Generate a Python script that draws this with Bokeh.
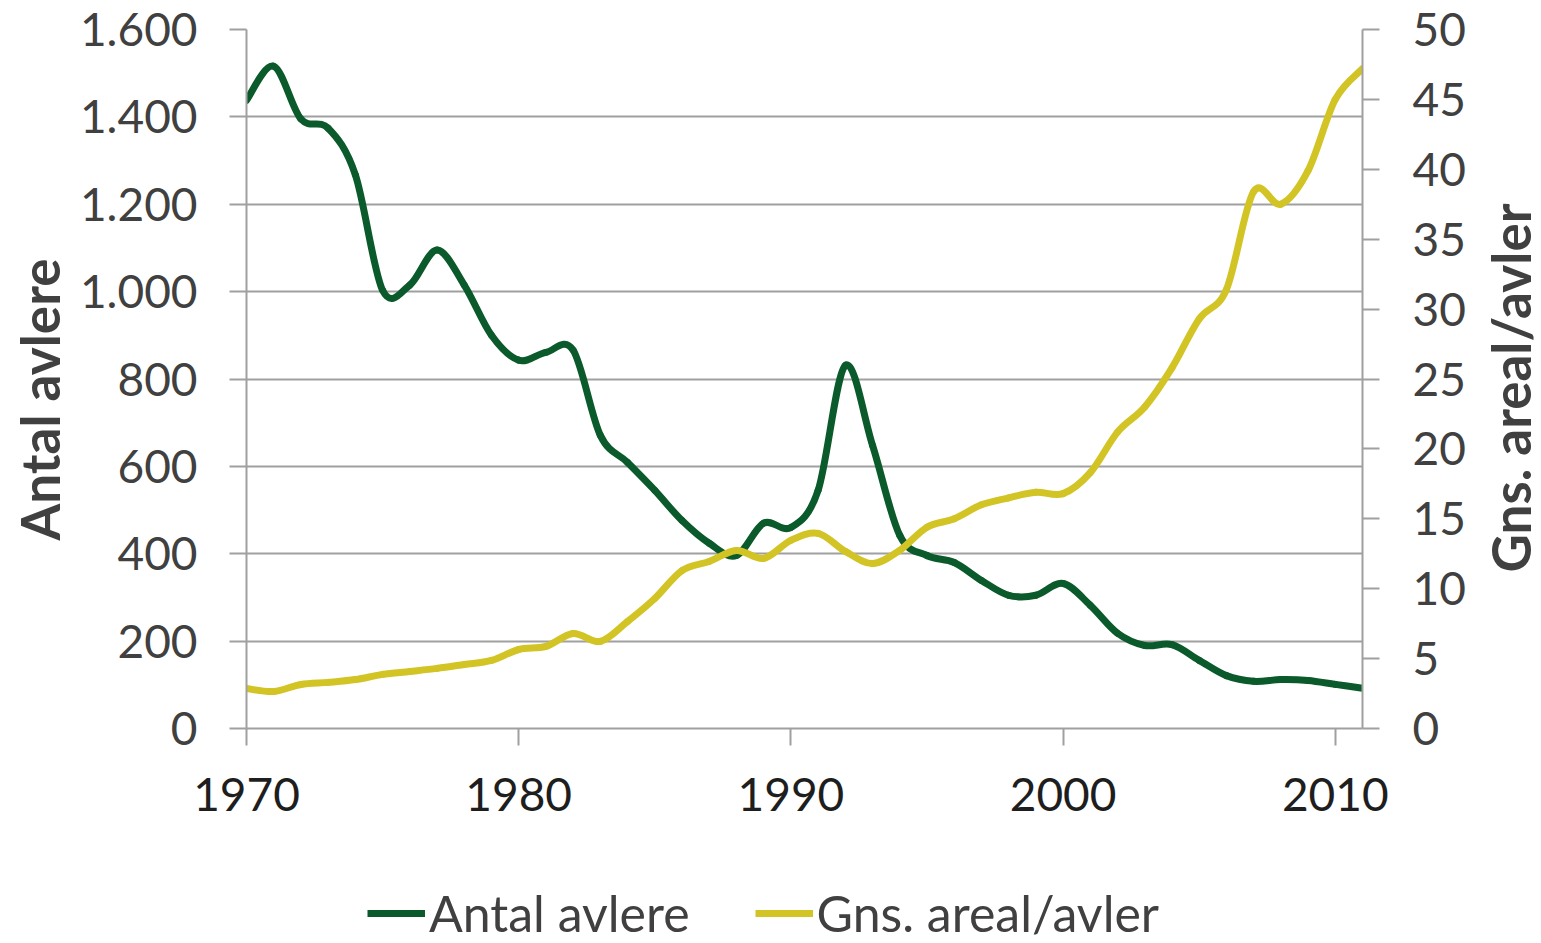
import math
import numpy as np
from bokeh.plotting import figure
from bokeh.layouts import column, row
from bokeh.models import (Range1d, LinearAxis, FixedTicker, Legend, LegendItem,
                          Title)
from bokeh.embed import file_html
from bokeh.resources import INLINE

years = list(range(1970, 2012))
antal_avlere = [1438, 1516, 1395, 1374, 1267, 1003, 1015, 1095, 1015, 900,
                843, 861, 866, 671, 609, 545, 476, 424, 396, 470,
                460, 545, 831, 648, 442, 396, 380, 339, 305, 305,
                332, 282, 218, 190, 192, 156, 121, 108, 112, 110,
                101, 92]
gns_areal = [2.86, 2.65, 3.15, 3.3, 3.5, 3.87, 4.08, 4.3, 4.58, 4.87,
             5.65, 5.87, 6.8, 6.23, 7.66, 9.3, 11.3, 11.95, 12.74, 12.17,
             13.46, 13.96, 12.67, 11.8, 12.74, 14.4, 15.0, 16.0, 16.5, 16.9,
             16.8, 18.3, 21.2, 23.0, 25.8, 29.3, 31.4, 38.4, 37.5, 39.9,
             45.0, 47.2]
left_ticks = [0, 200, 400, 600, 800, 1000, 1200, 1400, 1600]
left_tick_labels = ["0", "200", "400", "600", "800", "1.000", "1.200", "1.400", "1.600"]
right_ticks = [0, 5, 10, 15, 20, 25, 30, 35, 40, 45, 50]
x_ticks = [1970, 1980, 1990, 2000, 2010]
series_names = ["Antal avlere", "Gns. areal/avler"]

GREEN = "#0b5a2b"
YELLOW = "#d3c425"
GRID = "#a0a0a0"
TEXT = "#404040"
FONT = "Lato"


def smooth_segments(xs, ys):
    x = np.asarray(xs, dtype=float)
    y = np.asarray(ys, dtype=float)
    xp = np.concatenate([[x[0]], x, [x[-1]]])
    yp = np.concatenate([[y[0]], y, [y[-1]]])
    n = len(x)
    d = dict(x0=[], y0=[], x1=[], y1=[], cx0=[], cy0=[], cx1=[], cy1=[])
    for i in range(n - 1):
        p0 = (xp[i], yp[i]); p1 = (xp[i + 1], yp[i + 1])
        p2 = (xp[i + 2], yp[i + 2]); p3 = (xp[i + 3], yp[i + 3])
        d["x0"].append(p1[0]); d["y0"].append(p1[1])
        d["x1"].append(p2[0]); d["y1"].append(p2[1])
        d["cx0"].append(p1[0] + (p2[0] - p0[0]) / 6.0)
        d["cy0"].append(p1[1] + (p2[1] - p0[1]) / 6.0)
        d["cx1"].append(p2[0] - (p3[0] - p1[0]) / 6.0)
        d["cy1"].append(p2[1] - (p3[1] - p1[1]) / 6.0)
    return d


def style_axis(ax, ticks, standoff):
    ax.ticker = FixedTicker(ticks=ticks)
    ax.axis_line_color = GRID
    ax.axis_line_width = 2
    ax.major_tick_line_color = GRID
    ax.major_tick_line_width = 2
    ax.major_tick_out = 17
    ax.major_tick_in = 0
    ax.minor_tick_line_color = None
    ax.major_label_text_font = FONT
    ax.major_label_text_font_size = "46px"
    ax.major_label_text_color = TEXT
    ax.major_label_standoff = standoff


def side_title(text, offset, standoff):
    return Title(text=text, align="left", offset=offset, standoff=standoff,
                 text_font=FONT, text_font_style="bold",
                 text_font_size="53px", text_color=TEXT)


p = figure(width=1480, height=843, output_backend="svg", toolbar_location=None,
           x_range=Range1d(1970, 2011), y_range=Range1d(0, 1600),
           min_border_left=245, min_border_right=118, min_border_top=29,
           min_border_bottom=115)
p.outline_line_color = None
p.background_fill_color = "white"
p.border_fill_color = "white"
p.extra_y_ranges = {"right": Range1d(0, 50)}

g = smooth_segments(years, antal_avlere)
r_green = p.bezier(line_color=GREEN, line_width=7, line_cap="round", **g)
yy = smooth_segments(years, gns_areal)
r_yellow = p.bezier(line_color=YELLOW, line_width=7, line_cap="round",
                    y_range_name="right", **yy)

xa = p.xaxis[0]
style_axis(xa, x_ticks, 32)
xa.major_label_text_color = "#1e1e1e"

ya = p.yaxis[0]
style_axis(ya, left_ticks, 32)
ya.major_label_overrides = {t: l for t, l in zip(left_ticks, left_tick_labels)}

ra = LinearAxis(y_range_name="right")
style_axis(ra, right_ticks, 33)
p.add_layout(ra, "right")

p.add_layout(side_title(series_names[0], 188, 11), "left")

p.xgrid.grid_line_color = None
p.ygrid.ticker = FixedTicker(ticks=left_ticks)
p.ygrid.grid_line_color = GRID
p.ygrid.grid_line_width = 2

# narrow strip holding the right-hand axis title (reads bottom to top)
tf = figure(width=61, height=843, output_backend="svg", toolbar_location=None,
            x_range=Range1d(0, 1), y_range=Range1d(0, 1),
            x_axis_location=None, y_axis_location=None,
            min_border_left=60, min_border_right=0, min_border_top=29,
            min_border_bottom=115)
tf.outline_line_color = None
tf.xgrid.visible = False
tf.ygrid.visible = False
tf.add_layout(side_title(series_names[1], 156, 0), "left")

# legend row (its own small figure; the series lines lie outside its view)
lf = figure(width=1541, height=100, output_backend="svg", toolbar_location=None,
            x_range=Range1d(0, 1), y_range=Range1d(0, 1),
            x_axis_location=None, y_axis_location=None,
            min_border_left=245, min_border_right=179, min_border_top=0,
            min_border_bottom=0)
lf.outline_line_color = None
lf.xgrid.visible = False
lf.ygrid.visible = False
lg = lf.line(x=years, y=antal_avlere, line_color=GREEN, line_width=7)
ly = lf.line(x=years, y=gns_areal, line_color=YELLOW, line_width=7)
legend = Legend(items=[LegendItem(label=series_names[0], renderers=[lg]),
                       LegendItem(label=series_names[1], renderers=[ly])],
                orientation="horizontal", location=(122, 0))
legend.border_line_color = None
legend.background_fill_alpha = 0
legend.padding = 0
legend.margin = 0
legend.glyph_width = 58
legend.glyph_height = 50
legend.label_height = 50
legend.label_standoff = 4
legend.spacing = 65
legend.label_text_font = FONT
legend.label_text_font_size = "50px"
legend.label_text_color = TEXT
lf.add_layout(legend, "center")

layout = column(row(p, tf, spacing=0), lf, spacing=0)
open("out.html", "w").write(file_html(layout, INLINE))
